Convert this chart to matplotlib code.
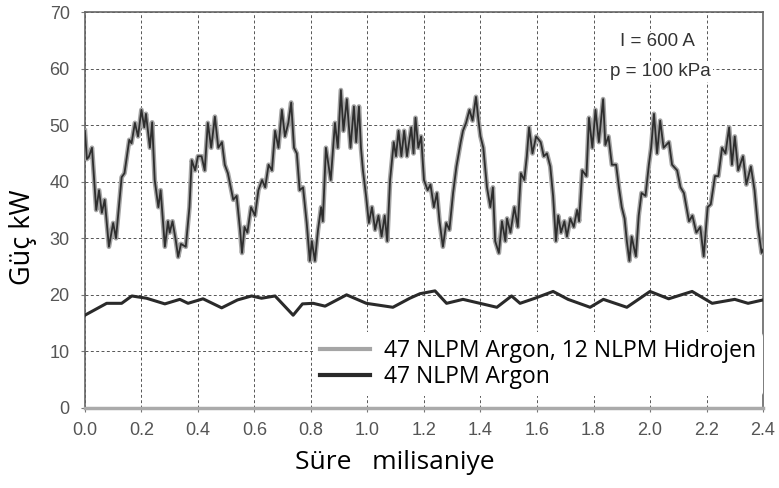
import matplotlib.pyplot as plt

# upper curve: 47 NLPM Argon + 12 NLPM Hidrojen
t_h2 = [0.0, 0.007, 0.014, 0.025, 0.035, 0.04, 0.05, 0.06, 0.07, 0.085, 0.1, 0.11,
        0.13, 0.14, 0.157, 0.165, 0.177, 0.188, 0.2, 0.21, 0.216, 0.23, 0.238, 0.247,
        0.26, 0.268, 0.283, 0.294, 0.3, 0.31, 0.322, 0.33, 0.34, 0.357, 0.37, 0.378,
        0.39, 0.4, 0.413, 0.424, 0.435, 0.447, 0.46, 0.472, 0.485, 0.495, 0.506,
        0.525, 0.537, 0.549, 0.556, 0.565, 0.575, 0.588, 0.602, 0.614, 0.627, 0.638,
        0.65, 0.662, 0.673, 0.685, 0.697, 0.708, 0.72, 0.73, 0.74, 0.75, 0.76, 0.772,
        0.785, 0.796, 0.803, 0.814, 0.825, 0.836, 0.842, 0.853, 0.862, 0.87, 0.885,
        0.895, 0.906, 0.915, 0.927, 0.94, 0.952, 0.96, 0.97, 0.977, 0.984, 0.995,
        1.005, 1.016, 1.027, 1.039, 1.05, 1.061, 1.07, 1.08, 1.093, 1.101, 1.11,
        1.12, 1.13, 1.14, 1.155, 1.163, 1.17, 1.18, 1.19, 1.2, 1.213, 1.223, 1.235,
        1.246, 1.255, 1.267, 1.279, 1.29, 1.303, 1.315, 1.33, 1.338, 1.349, 1.361,
        1.372, 1.384, 1.393, 1.4, 1.41, 1.423, 1.435, 1.444, 1.452, 1.465, 1.476,
        1.488, 1.494, 1.506, 1.52, 1.532, 1.543, 1.555, 1.564, 1.572, 1.584, 1.597,
        1.613, 1.624, 1.635, 1.647, 1.657, 1.667, 1.675, 1.685, 1.697, 1.706, 1.718,
        1.73, 1.742, 1.749, 1.76, 1.775, 1.784, 1.796, 1.807, 1.819, 1.834, 1.842,
        1.853, 1.865, 1.88, 1.89, 1.9, 1.91, 1.918, 1.927, 1.935, 1.95, 1.96, 1.97,
        1.984, 1.996, 2.004, 2.014, 2.025, 2.036, 2.048, 2.067, 2.078, 2.096, 2.108,
        2.12, 2.138, 2.15, 2.164, 2.178, 2.19, 2.204, 2.215, 2.23, 2.242, 2.255,
        2.267, 2.28, 2.29, 2.3, 2.312, 2.329, 2.341, 2.357, 2.37, 2.382, 2.395, 2.4]
p_h2 = [49.0, 44.0, 44.4, 46.0, 38.5, 35.0, 38.5, 34.5, 36.8, 28.5, 32.7, 30.0,
        40.8, 41.5, 47.4, 46.8, 50.4, 48.0, 52.7, 49.6, 52.0, 46.0, 50.5, 40.3,
        35.5, 38.5, 28.5, 33.0, 31.0, 33.0, 29.5, 26.7, 29.0, 28.5, 35.5, 43.8,
        42.0, 44.5, 44.5, 42.0, 50.4, 46.0, 51.5, 46.0, 47.0, 43.0, 41.5,
        36.8, 37.5, 31.5, 27.4, 32.0, 31.0, 35.5, 34.0, 38.5, 40.3, 39.0,
        43.0, 42.0, 49.0, 46.0, 52.7, 48.0, 50.4, 54.0, 46.0, 45.0, 38.5, 39.0,
        32.7, 26.0, 29.5, 26.0, 31.5, 35.5, 33.0, 46.0, 43.0, 40.3, 50.4,
        46.0, 56.2, 49.0, 54.6, 46.0, 53.3, 47.0, 53.3, 46.0, 42.0, 37.5,
        32.7, 35.5, 31.5, 34.0, 30.3, 34.0, 29.5, 40.3, 47.0, 44.5, 49.0,
        44.5, 49.0, 44.5, 49.6, 45.0, 51.3, 46.0, 48.0, 40.3, 38.5, 39.5, 35.5,
        38.0, 33.0, 28.5, 32.7, 31.5, 38.0, 42.7, 47.0, 49.0, 50.4, 52.7,
        50.8, 55.0, 50.8, 48.0, 46.0, 39.0, 35.5, 39.0, 29.5, 27.4, 33.0,
        29.5, 33.5, 31.0, 35.5, 32.0, 41.5, 40.3, 44.5, 49.6, 45.0, 48.0,
        47.0, 44.5, 45.0, 42.7, 37.5, 29.5, 34.0, 31.0, 33.0, 30.3, 33.5,
        32.0, 35.0, 33.0, 42.0, 41.0, 51.3, 46.0, 52.7, 47.0, 54.6, 46.5,
        48.0, 43.0, 43.0, 39.0, 35.5, 33.5, 29.5, 26.0, 30.3, 26.8, 34.0, 38.0,
        37.5, 43.0, 46.0, 52.0, 45.0, 50.8, 46.0, 47.0, 43.0, 42.0, 39.0,
        38.0, 33.0, 34.0, 31.0, 32.0, 26.8, 35.5, 36.0, 41.0, 41.0, 46.0,
        45.0, 49.6, 43.0, 48.0, 42.0, 44.5, 39.5, 42.7, 38.5, 32.0, 27.4, 28.0]

# lower curve: 47 NLPM Argon
t_ar = [0.0, 0.077, 0.13, 0.166, 0.218, 0.283, 0.336, 0.365, 0.418, 0.484, 0.54,
        0.59, 0.625, 0.673, 0.737, 0.77, 0.808, 0.85, 0.926, 0.996, 1.09, 1.15,
        1.186, 1.239, 1.28, 1.338, 1.398, 1.458, 1.51, 1.54, 1.593, 1.657, 1.71,
        1.788, 1.835, 1.918, 2.0, 2.066, 2.149, 2.22, 2.3, 2.347, 2.4]
p_ar = [16.4, 18.5, 18.5, 19.8, 19.4, 18.4, 19.2, 18.5, 19.3, 17.7, 19.1,
        19.8, 19.4, 19.8, 16.4, 18.4, 18.5, 18.0, 20.0, 18.5, 17.8, 19.4,
        20.2, 20.7, 18.5, 19.2, 18.5, 17.8, 19.8, 18.5, 19.4, 20.6, 19.2,
        17.8, 19.2, 17.8, 20.6, 19.3, 20.6, 18.5, 19.2, 18.5, 19.1]

xticks = [0.0, 0.2, 0.4, 0.6, 0.8, 1.0, 1.2, 1.4, 1.6, 1.8, 2.0, 2.2, 2.4]
xticklabels = ['0.0', '0.2', '0.4', '0.6', '0.8', '1.0', '1.2', '1.4', '1.6', '1.8', '2.0', '2.2', '2.4']
yticks = [0, 10, 20, 30, 40, 50, 60, 70]

fig = plt.figure(figsize=(7.79, 4.88), dpi=100)
ax = fig.add_axes([0.109, 0.164, 0.8705, 0.8114])

# halo + core for the noisy curve
ax.plot(t_h2, p_h2, color='#a5a5a5', lw=3.4, zorder=3,
        label='47 NLPM Argon, 12 NLPM Hidrojen')
ax.plot(t_h2, p_h2, color='#2e2e2e', lw=1.3, zorder=4)
ax.plot(t_ar, p_ar, color='#2a2a2a', lw=2.2, zorder=4, label='47 NLPM Argon')

ax.set_xlim(0, 2.4)
ax.set_ylim(0, 70)
ax.set_xticks(xticks)
ax.set_xticklabels(xticklabels)
ax.set_yticks(yticks)
ax.grid(True, color='#555555', lw=0.7, ls=(0, (3, 2.5)))
ax.tick_params(length=3, color='#777777', labelcolor='#555555', labelsize=13)
ax.tick_params(axis='x', pad=7)
ax.tick_params(axis='y', pad=8)
for lab in ax.get_xticklabels() + ax.get_yticklabels():
    lab.set_family('Liberation Sans')
for s in ['left', 'right', 'top']:
    ax.spines[s].set_color('#666666')
    ax.spines[s].set_linewidth(1.2)
ax.spines['bottom'].set_color('#aaaaaa')
ax.spines['bottom'].set_linewidth(2.5)

ax.set_xlabel('Süre   milisaniye', fontsize=19, family='Open Sans')
ax.xaxis.set_label_coords(0.457, -0.105)
ax.set_ylabel('Güç kW', fontsize=19.5, family='Open Sans')
ax.yaxis.set_label_coords(-0.07, 0.432)

ax.text(1.895, 64.7, 'I = 600 A', fontsize=13.5, family='Liberation Sans',
        color='#333333', va='center',
        bbox=dict(facecolor='white', edgecolor='none', pad=1))
ax.text(1.86, 59.4, 'p = 100 kPa', fontsize=13.5, family='Liberation Sans',
        color='#333333', va='center',
        bbox=dict(facecolor='white', edgecolor='none', pad=1))

leg = ax.legend(loc='lower right', bbox_to_anchor=(1.0, 0.03), frameon=True,
                framealpha=1, edgecolor='white', handlelength=2.2,
                prop={'family': 'Open Sans', 'size': 16.5}, borderpad=0.3,
                labelspacing=0.1, handletextpad=0.6, borderaxespad=0.0)
leg.get_frame().set_linewidth(0)
leg.set_zorder(5)
for h in leg.get_lines():
    h.set_linewidth(3)

fig.savefig('out.png', dpi=100)
